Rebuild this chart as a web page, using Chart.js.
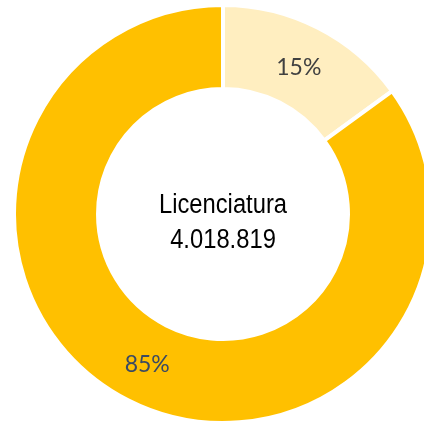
<!DOCTYPE html>
<html>
<head>
<meta charset="utf-8">
<script src="https://cdn.jsdelivr.net/npm/chart.js@4.4.1/dist/chart.umd.min.js"></script>
<style>
  html, body { margin: 0; padding: 0; overflow: hidden; background: #ffffff; }
  #wrap { position: absolute; left: 0; top: 0; width: 446px; height: 428px; }
</style>
</head>
<body>
<div id="wrap"><canvas id="myChart" width="446" height="428"></canvas></div>
<script>
// chart data
const categories = ['Otros', 'Licenciatura'];
const shares = [15, 85];
const sliceColors = ['#FFEEC0', '#FFC000'];
const labelColors = ['#404040', '#3B4A62'];
const centerTitle = 'Licenciatura';
const centerValue = '4.018.819';

document.addEventListener('DOMContentLoaded', function() {
  if (typeof Chart === 'undefined') {
    console.error('Chart.js is not loaded');
    return;
  }

  // percent labels on each slice + text in the hole
  const labelsPlugin = {
    id: 'labelsPlugin',
    afterDraw(chart) {
      const ctx = chart.ctx;
      const meta = chart.getDatasetMeta(0);
      ctx.save();
      ctx.textAlign = 'center';
      ctx.textBaseline = 'middle';
      ctx.font = '23px Lato, "Open Sans", sans-serif';
      meta.data.forEach(function(arc, i) {
        const p = arc.tooltipPosition();
        ctx.fillStyle = labelColors[i];
        ctx.fillText(shares[i] + '%', p.x, p.y + 2);
      });
      const cx = meta.data[0].x;
      const cy = meta.data[0].y;
      // no narrow font installed, so squeeze a regular one
      ctx.fillStyle = '#000000';
      ctx.textBaseline = 'alphabetic';
      ctx.font = '27px "Liberation Sans", Arial, sans-serif';
      ctx.translate(cx, cy);
      ctx.scale(0.88, 1);
      ctx.fillText(centerTitle, 0, -1);
      ctx.fillText(centerValue, 0, 34);
      ctx.restore();
    }
  };

  const ctx = document.getElementById('myChart');
  new Chart(ctx, {
    type: 'doughnut',
    data: {
      labels: categories,
      datasets: [{
        data: shares,
        backgroundColor: sliceColors,
        borderColor: '#ffffff',
        borderWidth: 4
      }]
    },
    options: {
      responsive: false,
      animation: false,
      devicePixelRatio: 1,
      radius: 209,
      cutout: '59.8%',
      plugins: {
        legend: { display: false },
        tooltip: { enabled: false }
      }
    },
    plugins: [labelsPlugin]
  });
});
</script>
</body>
</html>
